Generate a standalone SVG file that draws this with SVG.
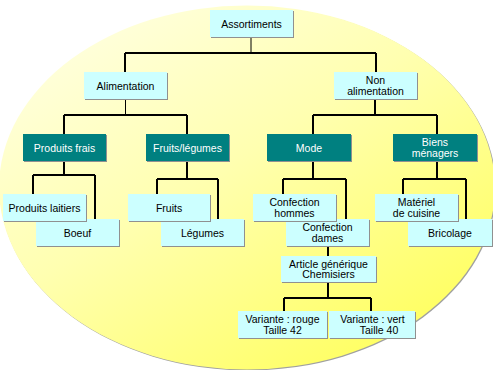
<svg xmlns="http://www.w3.org/2000/svg" width="493" height="370" viewBox="0 0 493 370">
<style>
.lt{fill:#ccffff}
.dk{fill:#008080}
.sh{fill:#909090}
text{font-family:"Liberation Sans",Arial,sans-serif;font-size:10.5px;text-anchor:middle;fill:#000}
.w{fill:#ffffff}
.c{stroke:#000;stroke-width:2;fill:none}
.c1{stroke:#000;stroke-width:1;fill:none}
</style>
<defs>
<linearGradient id="bg" x1="0.1" y1="0.05" x2="0.85" y2="0.95">
<stop offset="0" stop-color="#ffffe2"/>
<stop offset="0.45" stop-color="#ffffb0"/>
<stop offset="1" stop-color="#ffff5c"/>
</linearGradient>
</defs>
<rect width="493" height="370" fill="#ffffff"/>
<g id="background">
<ellipse cx="248" cy="188.5" rx="248" ry="182" fill="#a0a0a0"/>
<ellipse cx="247" cy="187.5" rx="248" ry="182" fill="url(#bg)"/>
</g>
<g id="connectors">
<path class="c1" d="M251 37V53"/>
<path class="c" d="M125 53H376M125 53V72M376 53V72"/>
<path class="c1" d="M125.5 99V115"/>
<path class="c" d="M375 99V115M64 115H187M64 115V134M187 115V134M313 115H437M313 115V134M437 115V134"/>
<path class="c" d="M64 161V175M33 175H95M33 175V194M95 175V219"/>
<path class="c" d="M187 161V179M157 179H218M157 179V194M218 179V219"/>
<path class="c" d="M313 161V179M283 179H346M283 179V194M346 179V219"/>
<path class="c" d="M437 161V179M403 179H466M403 179V194M466 179V219"/>
<path class="c" d="M328 246V256M328 282V298M284 298H371M284 298V311M371 298V311"/>
</g>
<g id="assortiments">
<rect class="sh" x="211" y="11" width="83" height="27"/><rect class="lt" x="210" y="10" width="83" height="27"/>
<text x="251.5" y="27.5">Assortiments</text>
</g>
<g id="alimentation">
<rect class="sh" x="85" y="73" width="83" height="27"/><rect class="lt" x="84" y="72" width="83" height="27"/>
<text x="125.5" y="89.5">Alimentation</text>
</g>
<g id="non-alimentation">
<rect class="sh" x="335" y="73" width="83" height="27"/><rect class="lt" x="334" y="72" width="83" height="27"/>
<text x="375.5" y="83.5">Non</text><text x="375.5" y="94.5">alimentation</text>
</g>
<g id="produits-frais">
<rect class="sh" x="24" y="135" width="83" height="27"/><rect class="dk" x="23" y="134" width="83" height="27"/>
<text class="w" x="64.5" y="151.5">Produits frais</text>
</g>
<g id="fruits-legumes">
<rect class="sh" x="147" y="135" width="83" height="27"/><rect class="dk" x="146" y="134" width="83" height="27"/>
<text class="w" x="187.5" y="151.5">Fruits/légumes</text>
</g>
<g id="mode">
<rect class="sh" x="268" y="135" width="84" height="27"/><rect class="dk" x="267" y="134" width="84" height="27"/>
<text class="w" x="309" y="151.5">Mode</text>
</g>
<g id="biens-menagers">
<rect class="sh" x="394" y="135" width="84" height="27"/><rect class="dk" x="393" y="134" width="84" height="27"/>
<text class="w" x="435" y="145.5">Biens</text><text class="w" x="435" y="156.5">ménagers</text>
</g>
<g id="boeuf">
<rect class="sh" x="37" y="220" width="83" height="27"/><rect class="lt" x="36" y="219" width="83" height="27"/>
<text x="77.5" y="236.5">Boeuf</text>
</g>
<g id="produits-laitiers">
<rect class="sh" x="4" y="195" width="83" height="27"/><rect class="lt" x="3" y="194" width="83" height="27"/>
<text x="44.5" y="211.5">Produits laitiers</text>
</g>
<g id="legumes">
<rect class="sh" x="162" y="220" width="83" height="27"/><rect class="lt" x="161" y="219" width="83" height="27"/>
<text x="202.5" y="236.5">Légumes</text>
</g>
<g id="fruits">
<rect class="sh" x="129" y="195" width="82" height="27"/><rect class="lt" x="128" y="194" width="82" height="27"/>
<text x="169" y="211.5">Fruits</text>
</g>
<g id="confection-dames">
<rect class="sh" x="287" y="220" width="83" height="27"/><rect class="lt" x="286" y="219" width="83" height="27"/>
<text x="327.5" y="230.5">Confection</text><text x="327.5" y="241.5">dames</text>
</g>
<g id="confection-hommes">
<rect class="sh" x="254" y="195" width="83" height="27"/><rect class="lt" x="253" y="194" width="83" height="27"/>
<text x="294.5" y="205.5">Confection</text><text x="294.5" y="216.5">hommes</text>
</g>
<g id="bricolage">
<rect class="sh" x="409" y="220" width="84" height="27"/><rect class="lt" x="408" y="219" width="84" height="27"/>
<text x="450" y="236.5">Bricolage</text>
</g>
<g id="materiel-cuisine">
<rect class="sh" x="376" y="195" width="83" height="27"/><rect class="lt" x="375" y="194" width="83" height="27"/>
<text x="416.5" y="205.5">Matériel</text><text x="416.5" y="216.5">de cuisine</text>
</g>
<g id="article-generique">
<rect class="sh" x="282" y="257" width="95" height="26"/><rect class="lt" x="281" y="256" width="95" height="26"/>
<text x="328.5" y="267.5">Article générique</text><text x="328.5" y="278">Chemisiers</text>
</g>
<g id="variante-rouge">
<rect class="sh" x="239" y="312" width="89" height="27"/><rect class="lt" x="238" y="311" width="89" height="27"/>
<text x="282.5" y="323">Variante : rouge</text><text x="282.5" y="334">Taille 42</text>
</g>
<g id="variante-vert">
<rect class="sh" x="330" y="312" width="86" height="27"/><rect class="lt" x="329" y="311" width="86" height="27"/>
<text x="372.5" y="323">Variante : vert</text><text x="379" y="334">Taille 40</text>
</g>
</svg>
